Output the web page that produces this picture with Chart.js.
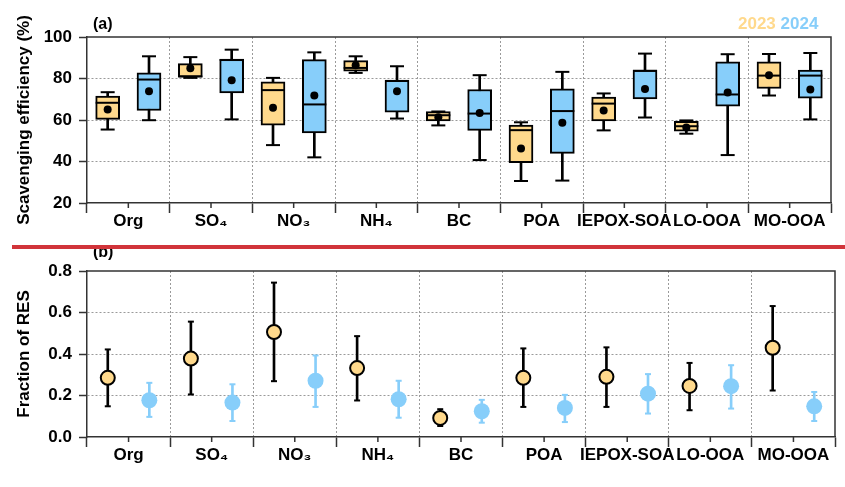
<!DOCTYPE html>
<html>
<head>
<meta charset="utf-8">
<script src="https://cdn.jsdelivr.net/npm/chart.js@4"></script>
<style>
  html, body { margin: 0; padding: 0; background: #fff; }
  #wrap { position: relative; width: 845px; height: 487px; overflow: hidden; background: #fff; }
  canvas { position: absolute; left: 0; }
  .lab { position: absolute; font-family: "Liberation Sans", Arial, sans-serif; font-weight: bold; font-size: 16px; line-height: 16px; color: #000; white-space: nowrap; }
  .leg { position: absolute; font-family: "Liberation Sans", Arial, sans-serif; font-weight: bold; font-size: 17px; line-height: 17px; white-space: nowrap; }
  #redline { position: absolute; left: 12px; top: 245px; width: 833px; height: 4px; background: #d1343a; z-index: 5; }
</style>
</head>
<body>
<div id="wrap">
  <canvas id="c1" width="845" height="240" style="top:0"></canvas>
  <canvas id="c2" width="845" height="247" style="top:240px"></canvas>
  <div class="lab" style="left:93px;top:16px">(a)</div>
  <div class="lab" style="left:93px;top:244px">(b)</div>
  <div class="leg" style="left:738px;top:15px"><span style="color:#FFD98C">2023</span> <span style="color:#87CEFA">2024</span></div>
  <div id="redline"></div>
</div>
<script>
// ---------- data ----------
const categories = ['Org', 'SO\u2084', 'NO\u2083', 'NH\u2084', 'BC', 'POA', 'IEPOX-SOA', 'LO-OOA', 'MO-OOA'];

// (a) scavenging efficiency (%) box statistics
const whiskerLow2023 = [55.4, 80.3, 47.9, 82.7, 57.4, 30.6, 55.0, 53.4, 71.8];
const q1_2023        = [60.3, 80.6, 57.5, 83.5, 59.6, 39.4, 59.6, 54.6, 75.2];
const median2023     = [68.3, 81.0, 74.4, 85.1, 62.3, 55.1, 67.9, 57.0, 81.4];
const q3_2023        = [71.5, 87.2, 78.4, 88.6, 64.1, 57.5, 71.0, 59.3, 88.0];
const whiskerHigh2023= [73.4, 90.3, 80.3, 90.7, 64.1, 58.9, 72.8, 59.8, 91.8];
const mean2023       = [65.1, 84.9, 65.9, 86.4, 61.3, 46.3, 64.6, 56.4, 81.6];

const whiskerLow2024 = [59.9, 60.3, 42.0, 60.7, 40.7, 30.8, 61.2, 43.1, 60.3];
const q1_2024        = [64.6, 73.1, 53.8, 63.8, 55.0, 43.9, 70.2, 66.7, 70.5];
const median2024     = [79.5, 88.9, 67.5, 78.8, 63.1, 64.3, 83.7, 72.3, 81.4];
const q3_2024        = [82.7, 89.3, 89.1, 79.2, 74.7, 75.0, 84.0, 88.0, 84.0];
const whiskerHigh2024= [90.7, 93.9, 92.6, 85.9, 81.6, 83.2, 92.0, 91.7, 92.3];
const mean2024       = [73.9, 79.2, 71.8, 73.9, 63.4, 58.7, 75.0, 73.2, 74.7];

// (b) fraction of RES (mean with error range)
const res2023     = [0.285, 0.378, 0.506, 0.332, 0.092, 0.285, 0.290, 0.246, 0.430];
const res2023Low  = [0.148, 0.205, 0.269, 0.176, 0.053, 0.145, 0.145, 0.129, 0.224];
const res2023High = [0.422, 0.556, 0.744, 0.486, 0.134, 0.427, 0.432, 0.357, 0.631];
const res2024     = [0.177, 0.166, 0.271, 0.182, 0.124, 0.140, 0.209, 0.245, 0.148];
const res2024Low  = [0.097, 0.077, 0.145, 0.093, 0.069, 0.072, 0.113, 0.137, 0.077];
const res2024High = [0.261, 0.254, 0.393, 0.271, 0.179, 0.203, 0.303, 0.346, 0.217];

const yTicksA = [20, 40, 60, 80, 100];
const yTicksB = [0, 0.2, 0.4, 0.6, 0.8];

// ---------- styles ----------
const YEL = '#FFD98C';
const BLU = '#87CEFA';
const FONT = '"Liberation Sans", Arial, sans-serif';
const AXC = '#333';
const GRIDC = '#9a9a9a';
const OFF23 = 0.25, OFF24 = 0.75;

const pos = (off) => categories.map((_, i) => i + off);

function floatBars(off, lo, hi, thick, color, extra) {
  return Object.assign({
    type: 'bar', xAxisID: 'xd', yAxisID: 'y',
    data: pos(off).map((x, i) => ({ x, y: [lo[i], hi[i]] })),
    barThickness: thick, grouped: false, backgroundColor: color,
    borderWidth: 0, borderSkipped: false
  }, extra || {});
}
function points(off, arrs, extra) {
  const data = [];
  pos(off).forEach((x, i) => arrs.forEach(a => data.push({ x, y: a[i] })));
  return Object.assign({ type: 'scatter', xAxisID: 'xd', yAxisID: 'y', data }, extra);
}

const decor = {
  id: 'decor',
  afterDraw(chart) {
    const { ctx, chartArea: { left, right, top, bottom } } = chart;
    const xs = chart.scales.xd;
    ctx.save();
    ctx.strokeStyle = AXC; ctx.lineWidth = 1.5;
    ctx.beginPath();
    ctx.moveTo(left, top); ctx.lineTo(right, top); ctx.lineTo(right, bottom);
    categories.forEach((_, i) => {
      const x = xs.getPixelForValue(i + 0.5);
      ctx.moveTo(x, bottom); ctx.lineTo(x, bottom + 5);
    });
    ctx.stroke();
    ctx.restore();
  }
};

function baseOptions(ymin, ymax, yTitle, padTop, xHeight, tickFmt, yTicks) {
  return {
    responsive: false, animation: false, events: [],
    layout: { padding: { top: padTop, right: 10, left: 0, bottom: 0 } },
    plugins: { legend: { display: false }, tooltip: { enabled: false } },
    scales: {
      x: {
        type: 'category', labels: categories, position: 'bottom', offset: true,
        grid: {
          offset: true, drawOnChartArea: true, tickLength: 10, tickColor: AXC, tickWidth: 1.5,
          color: (c) => (c.index === undefined || c.index === 0) ? 'rgba(0,0,0,0)' : GRIDC,
          lineWidth: 1
        },
        border: { display: true, color: AXC, width: 1.5, dash: [2, 2] },
        ticks: { color: '#000', padding: 0, font: { family: FONT, size: 17, weight: 'bold', lineHeight: 1 }, maxRotation: 0, autoSkip: false },
        afterFit: (s) => { s.height = xHeight; }
      },
      xd: { type: 'linear', display: false, min: 0, max: 9, offset: false },
      y: {
        type: 'linear', position: 'left', min: ymin, max: ymax,
        afterBuildTicks: (s) => { s.ticks = yTicks.map(v => ({ value: v })); },
        grid: {
          tickLength: 8, tickColor: AXC, tickWidth: 1.5, lineWidth: 1,
          color: (c) => (c.tick && (c.tick.value === ymin || c.tick.value === ymax)) ? 'rgba(0,0,0,0)' : GRIDC
        },
        border: { display: true, color: AXC, width: 1.5, dash: [2, 2] },
        ticks: { color: '#000', padding: 7, font: { family: FONT, size: 17, weight: 'bold' }, callback: tickFmt },
        title: { display: true, text: yTitle, color: '#000', padding: { top: 14, bottom: 0 }, font: { family: FONT, size: 17, weight: 'bold' } },
        afterFit: (s) => { s.width = 87; }
      }
    }
  };
}

// ---------- chart (a) ----------
const dsA = [];
[[OFF23, YEL, whiskerLow2023, q1_2023, median2023, q3_2023, whiskerHigh2023, mean2023],
 [OFF24, BLU, whiskerLow2024, q1_2024, median2024, q3_2024, whiskerHigh2024, mean2024]].forEach(([off, col, wl, q1, md, q3, wh, mn]) => {
  dsA.push(floatBars(off, wl, wh, 2, '#000', { order: 6 }));
  dsA.push(points(off, [wl, wh], { pointStyle: 'line', pointRadius: 7, borderColor: '#000', borderWidth: 2, order: 5 }));
  dsA.push(floatBars(off, q1, q3, 24, col, { borderColor: '#000', borderWidth: 2, order: 4 }));
  dsA.push(points(off, [md], { pointStyle: 'line', pointRadius: 12, borderColor: '#000', borderWidth: 2, order: 3 }));
  dsA.push(points(off, [mn], { pointStyle: 'circle', pointRadius: 4, backgroundColor: '#000', borderColor: '#000', borderWidth: 0, order: 2 }));
});

new Chart(document.getElementById('c1'), {
  type: 'bar',
  data: { labels: categories, datasets: dsA },
  options: baseOptions(20, 100, 'Scavenging efficiency (%)', 37, 37, (v) => v, yTicksA),
  plugins: [decor]
});

// ---------- chart (b) ----------
const dsB = [
  floatBars(OFF23, res2023Low, res2023High, 2, '#000', { order: 6 }),
  points(OFF23, [res2023Low, res2023High], { pointStyle: 'line', pointRadius: 3, borderColor: '#000', borderWidth: 2, order: 5 }),
  points(OFF23, [res2023], { pointStyle: 'circle', pointRadius: 7, backgroundColor: YEL, borderColor: '#000', borderWidth: 2, order: 1 }),
  floatBars(OFF24, res2024Low, res2024High, 2, BLU, { order: 6 }),
  points(OFF24, [res2024Low, res2024High], { pointStyle: 'line', pointRadius: 3, borderColor: BLU, borderWidth: 2, order: 5 }),
  points(OFF24, [res2024], { pointStyle: 'circle', pointRadius: 8, backgroundColor: BLU, borderColor: BLU, borderWidth: 0, order: 1 })
];

new Chart(document.getElementById('c2'), {
  type: 'bar',
  data: { labels: categories, datasets: dsB },
  options: baseOptions(0, 0.8, 'Fraction of RES', 31, 50, (v) => Number(v).toFixed(1), yTicksB),
  plugins: [decor]
});
</script>
</body>
</html>
